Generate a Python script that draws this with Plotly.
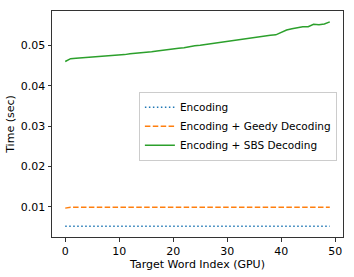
import plotly.graph_objects as go

x_idx = list(range(50))
encoding = [0.0052] * 50
greedy = [0.0097] + [0.0099] * 49
sbs = [0.0460, 0.0467, 0.0468, 0.0469, 0.0469, 0.0470, 0.0471, 0.0472, 0.0473, 0.0475,
       0.0476, 0.0477, 0.0479, 0.0480, 0.0482, 0.0483, 0.0484, 0.0486, 0.0488, 0.0490,
       0.0491, 0.0493, 0.0494, 0.0497, 0.0499, 0.0500, 0.0502, 0.0504, 0.0506, 0.0507,
       0.0509, 0.0512, 0.0514, 0.0516, 0.0518, 0.0520, 0.0522, 0.0524, 0.0525, 0.0526,
       0.0532, 0.0538, 0.0541, 0.0544, 0.0546, 0.0546, 0.0552, 0.0551, 0.0553, 0.0558]
names = ["Encoding", "Encoding + Geedy Decoding", "Encoding + SBS Decoding"]
x_ticks = [0, 10, 20, 30, 40, 50]
y_ticks = [0.01, 0.02, 0.03, 0.04, 0.05]

fig = go.Figure()
fig.add_trace(go.Scatter(x=x_idx, y=encoding, mode="lines", name=names[0],
                         line=dict(color="#1f77b4", width=1.5, dash="1.5px,2.5px")))
fig.add_trace(go.Scatter(x=x_idx, y=greedy, mode="lines", name=names[1],
                         line=dict(color="#ff7f0e", width=1.5, dash="5.5px,2.4px")))
fig.add_trace(go.Scatter(x=x_idx, y=sbs, mode="lines", name=names[2],
                         line=dict(color="#2ca02c", width=1.5)))

axis_common = dict(showline=True, linecolor="#333333", linewidth=1, mirror=True,
                   ticks="outside", ticklen=3.5, tickcolor="#333333", showgrid=False,
                   zeroline=False, automargin=False, tickfont=dict(size=11, color="black"))
fig.update_xaxes(range=[-2.45, 51.45], tickvals=x_ticks,
                 title=dict(text="Target Word Index (GPU)", font=dict(size=11, color="black"), standoff=3),
                 **axis_common)
fig.update_yaxes(range=[0.00255, 0.0585], tickvals=y_ticks, tickformat=".2f",
                 title=dict(text="Time (sec)", font=dict(size=11, color="black"), standoff=3),
                 **axis_common)
fig.update_layout(
    width=354, height=277,
    margin=dict(l=52, r=11, t=11, b=40),
    plot_bgcolor="white", paper_bgcolor="white",
    font=dict(family="DejaVu Sans", size=11, color="black"),
    legend=dict(x=0.979, y=0.49, xanchor="right", yanchor="middle",
                bgcolor="rgba(255,255,255,0.8)", bordercolor="#cccccc", borderwidth=1,
                font=dict(size=10.5), itemwidth=30, tracegroupgap=0),
)
fig.write_html("out.html", config={"displayModeBar": False},
               post_script="document.body.style.margin='0';document.body.style.overflow='hidden';")
